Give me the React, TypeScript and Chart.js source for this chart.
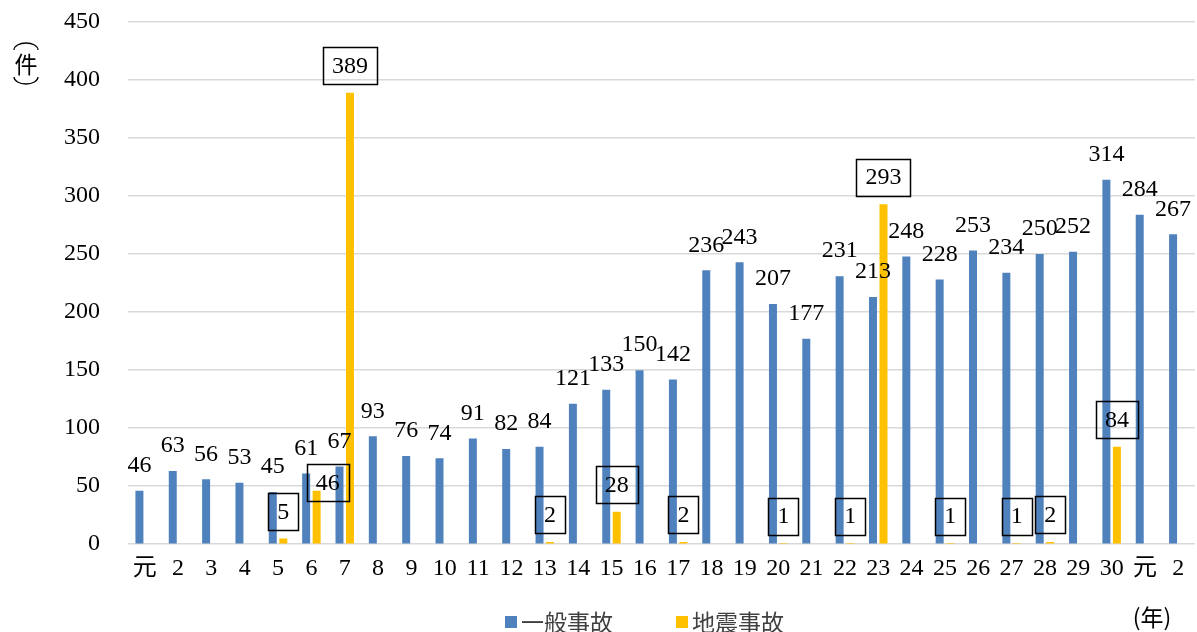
import { useEffect, useRef } from "react";
import { Chart, registerables } from "chart.js";

Chart.register(...registerables);

const categories = [
  "元", "2", "3", "4", "5", "6", "7", "8", "9", "10",
  "11", "12", "13", "14", "15", "16", "17", "18", "19", "20",
  "21", "22", "23", "24", "25", "26", "27", "28", "29", "30",
  "元", "2",
];

const generalAccidents = [
  46, 63, 56, 53, 45, 61, 67, 93, 76, 74,
  91, 82, 84, 121, 133, 150, 142, 236, 243, 207,
  177, 231, 213, 248, 228, 253, 234, 250, 252, 314,
  284, 267,
];

const earthquakeAccidents: (number | null)[] = [
  null, null, null, null, 5, 46, 389, null, null, null,
  null, null, 2, null, 28, null, 2, null, null, 1,
  null, 1, 293, null, 1, null, 1, 2, null, 84,
  null, null,
];

const seriesNames = ["一般事故", "地震事故"];
const yTicks = { min: 0, max: 450, step: 50 };

const BLUE = "#4F81BD";
const YELLOW = "#FFC000";
const FAMILY = "Liberation Serif, serif";
const CJK = '"Noto Sans CJK JP", sans-serif';

const overlayPlugin = {
  id: "overlay",
  afterDatasetsDraw(chart: any) {
    const ctx = chart.ctx as CanvasRenderingContext2D;
    ctx.save();
    ctx.font = `24px ${FAMILY}`;
    ctx.fillStyle = "#000";
    ctx.textAlign = "center";
    ctx.textBaseline = "middle";
    const m0 = chart.getDatasetMeta(0);
    m0.data.forEach((bar: any, i: number) => {
      const v = generalAccidents[i];
      ctx.fillText(String(v), bar.x, bar.y - 25);
    });
    const m1 = chart.getDatasetMeta(1);
    m1.data.forEach((bar: any, i: number) => {
      const v = earthquakeAccidents[i];
      if (v == null) return;
      let cx = bar.x;
      let cy = bar.y - 27;
      if (i === 5) {
        cx += 11;
        cy = bar.y - 8;
      }
      const text = String(v);
      const w = ctx.measureText(text).width + 18;
      const h = 37;
      ctx.lineWidth = 1.5;
      ctx.strokeStyle = "#000";
      ctx.strokeRect(Math.round(cx - w / 2) + 0.5, Math.round(cy - h / 2) + 0.5, Math.round(w), h);
      ctx.fillText(text, cx, cy + 1);
    });
    ctx.restore();
  },
  afterDraw(chart: any) {
    const ctx = chart.ctx as CanvasRenderingContext2D;
    ctx.save();
    ctx.textBaseline = "middle";
    ctx.font = `23px ${CJK}`;
    ctx.textAlign = "left";
    const items = [
      { x: 505, color: BLUE, label: seriesNames[0] },
      { x: 676, color: YELLOW, label: seriesNames[1] },
    ];
    items.forEach((it) => {
      ctx.fillStyle = it.color;
      ctx.fillRect(it.x, 616, 12, 12);
      ctx.fillStyle = "#404040";
      ctx.fillText(it.label, it.x + 16, 622);
    });
    ctx.fillStyle = "#000";
    ctx.textAlign = "center";
    ctx.fillText("(年)", 1152, 617);
    ctx.fillText("件", 26, 64);
    ctx.strokeStyle = "#000";
    ctx.lineWidth = 1.3;
    ctx.beginPath();
    ctx.ellipse(26, 50, 12, 7, 0, Math.PI, 2 * Math.PI);
    ctx.stroke();
    ctx.beginPath();
    ctx.ellipse(26, 77, 12, 7, 0, 0, Math.PI);
    ctx.stroke();
    ctx.restore();
  },
};

export default function App() {
  const ref = useRef<HTMLCanvasElement>(null);
  useEffect(() => {
    document.body.style.margin = "0";
    let chart: Chart | null = null;
    let cancelled = false;
    const build = () => {
      if (cancelled || !ref.current) return;
      chart = new Chart(ref.current, {
        type: "bar",
        data: {
          labels: categories,
          datasets: [
            {
              label: seriesNames[0],
              data: generalAccidents,
              backgroundColor: BLUE,
              categoryPercentage: 0.63,
              barPercentage: 0.76,
            },
            {
              label: seriesNames[1],
              data: earthquakeAccidents,
              backgroundColor: YELLOW,
              categoryPercentage: 0.63,
              barPercentage: 0.76,
            },
          ],
        },
        options: {
          animation: false,
          responsive: false,
          maintainAspectRatio: false,
          layout: { padding: { left: 36, right: 2, top: 22, bottom: 39 } },
          plugins: {
            legend: { display: false },
            tooltip: { enabled: false },
          },
          scales: {
            x: {
              grid: { display: false, drawTicks: false },
              border: { display: false },
              ticks: {
                color: "#000",
                font: { family: 'Liberation Serif, "Noto Sans CJK JP", serif', size: 24 },
                padding: 10,
                autoSkip: false,
                maxRotation: 0,
              },
            },
            y: {
              min: yTicks.min,
              max: yTicks.max,
              grid: { color: "#d9d9d9", lineWidth: 1.5, drawTicks: false },
              border: { display: false },
              afterFit: (scale: any) => {
                scale.paddingTop = 0;
              },
              ticks: {
                stepSize: yTicks.step,
                color: "#000",
                font: { family: FAMILY, size: 24 },
                padding: 28,
              },
            },
          },
        },
        plugins: [overlayPlugin],
      });
    };
    const fonts: any = (document as any).fonts;
    if (fonts && fonts.load) {
      Promise.all([
        fonts.load("24px Liberation Serif", "0123456789"),
        fonts.load('24px "Noto Sans CJK JP"', "元件年一般事故地震"),
      ]).then(build, build);
    } else {
      build();
    }
    return () => {
      cancelled = true;
      if (chart) chart.destroy();
    };
  }, []);
  return (
    <div style={{ width: 1197, height: 632, background: "#fff" }}>
      <canvas ref={ref} width={1197} height={632} style={{ display: "block" }} />
    </div>
  );
}
